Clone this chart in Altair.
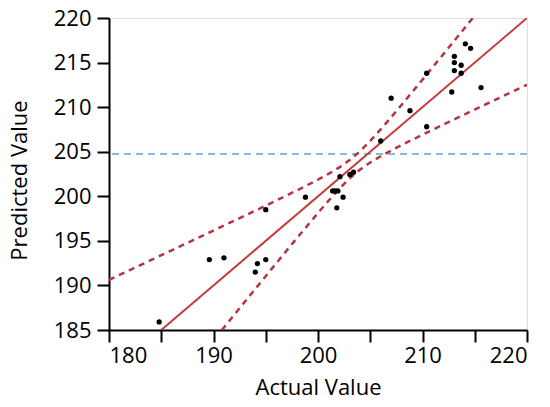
import altair as alt
import pandas as pd

# Scatter points (Actual, Predicted)
actual = [184.8, 189.6, 191.0, 194.2, 194.0, 195.0, 195.0, 198.8, 201.4, 201.65,
          201.9, 202.4, 201.8, 202.1, 203.05, 203.4, 206.0, 207.0, 208.8, 210.4,
          210.4, 212.8, 213.05, 213.05, 213.05, 213.7, 213.7, 214.1, 214.6, 215.6]
predicted = [185.9, 192.9, 193.1, 192.45, 191.5, 192.9, 198.5, 199.9, 200.6, 200.6,
             200.6, 199.9, 198.7, 202.2, 202.45, 202.7, 206.2, 211.0, 209.6, 213.8,
             207.8, 211.7, 215.7, 215.0, 214.1, 214.7, 213.8, 217.1, 216.6, 212.2]

# Fit line (y = x)
fit_x = [180, 220]
fit_y = [180, 220]

# Upper confidence curve
upper_x = [180, 182, 184, 186, 188, 190, 192, 194, 196, 198, 200, 201, 202, 203,
           204, 205, 206, 207, 208, 209, 210, 211, 212, 213, 214, 214.8]
upper_y = [190.62, 191.73, 192.83, 193.94, 195.05, 196.16, 197.27, 198.39, 199.52,
           200.67, 201.87, 202.51, 203.21, 204.03, 205.03, 206.21, 207.51, 208.87,
           210.26, 211.67, 213.09, 214.52, 215.95, 217.39, 218.83, 219.98]

# Lower confidence curve
lower_x = [190.8, 192, 194, 196, 198, 200, 201, 202, 203, 204, 205, 206, 207, 208,
           209, 210, 212, 214, 216, 218, 220]
lower_y = [185.0, 186.73, 189.61, 192.48, 195.33, 198.13, 199.49, 200.79, 201.98,
           202.98, 203.79, 204.49, 205.13, 205.74, 206.33, 206.91, 208.05, 209.17,
           210.29, 211.40, 212.51]

mean_pred = 204.75

FONT = "Open Sans"
xs = alt.Scale(domain=[180, 220], nice=False, zero=False)
ys = alt.Scale(domain=[185, 220], nice=False, zero=False)
tick_vals = list(range(180, 221, 5))

x_axis = alt.Axis(values=tick_vals, title="Actual Value", grid=False,
                  domainColor="black", domainWidth=2, tickColor="black",
                  tickWidth=2, tickSize=12, labelFont=FONT, labelFontSize=22,
                  labelColor="black", labelPadding=3, titleFont=FONT,
                  titleFontSize=22, titleFontWeight="normal", titleColor="black",
                  titleBaseline="alphabetic", titleY=64, titleX=209)
y_axis = alt.Axis(values=list(range(185, 221, 5)), title="Predicted Value", grid=False,
                  domainColor="black", domainWidth=2, tickColor="black",
                  tickWidth=2, tickSize=12, labelFont=FONT, labelFontSize=22,
                  labelColor="black", labelPadding=6, titleFont=FONT,
                  titleFontSize=22, titleFontWeight="normal", titleColor="black",
                  titleAngle=270, titleAlign="center", titleBaseline="bottom",
                  titleX=-78, titleY=162)

pts = pd.DataFrame({"x": actual, "y": predicted})
fit = pd.DataFrame({"x": fit_x, "y": fit_y})
up = pd.DataFrame({"x": upper_x, "y": upper_y})
lo = pd.DataFrame({"x": lower_x, "y": lower_y})
mean_df = pd.DataFrame({"y": [mean_pred]})

base_x = alt.X("x:Q", scale=xs, axis=x_axis)
base_y = alt.Y("y:Q", scale=ys, axis=y_axis)

mean_rule = alt.Chart(mean_df).mark_rule(color="#86b9e6", strokeWidth=2,
                                         strokeDash=[7, 5]).encode(
    y=alt.Y("y:Q", scale=ys, axis=y_axis))

upper_line = alt.Chart(up).mark_line(color="#b5353e", strokeWidth=2.5,
                                     strokeDash=[6, 5], clip=True).encode(
    x=base_x, y=base_y)
lower_line = alt.Chart(lo).mark_line(color="#b5353e", strokeWidth=2.5,
                                     strokeDash=[6, 5], clip=True).encode(
    x=base_x, y=base_y)
fit_line = alt.Chart(fit).mark_line(color="#c43c3c", strokeWidth=2,
                                    clip=True).encode(x=base_x, y=base_y)
points = alt.Chart(pts).mark_circle(color="black", size=28, opacity=1).encode(
    x=base_x, y=base_y)

chart = alt.layer(mean_rule, upper_line, lower_line, fit_line, points).properties(
    width=418, height=312,
    autosize=alt.AutoSizeParams(type="none"),
    padding={"left": 101, "top": 10, "right": 15, "bottom": 69},
).configure_view(stroke="black", strokeWidth=2).configure(background="white")

chart.save("out.html", embed_options={"renderer": "svg", "actions": False})
